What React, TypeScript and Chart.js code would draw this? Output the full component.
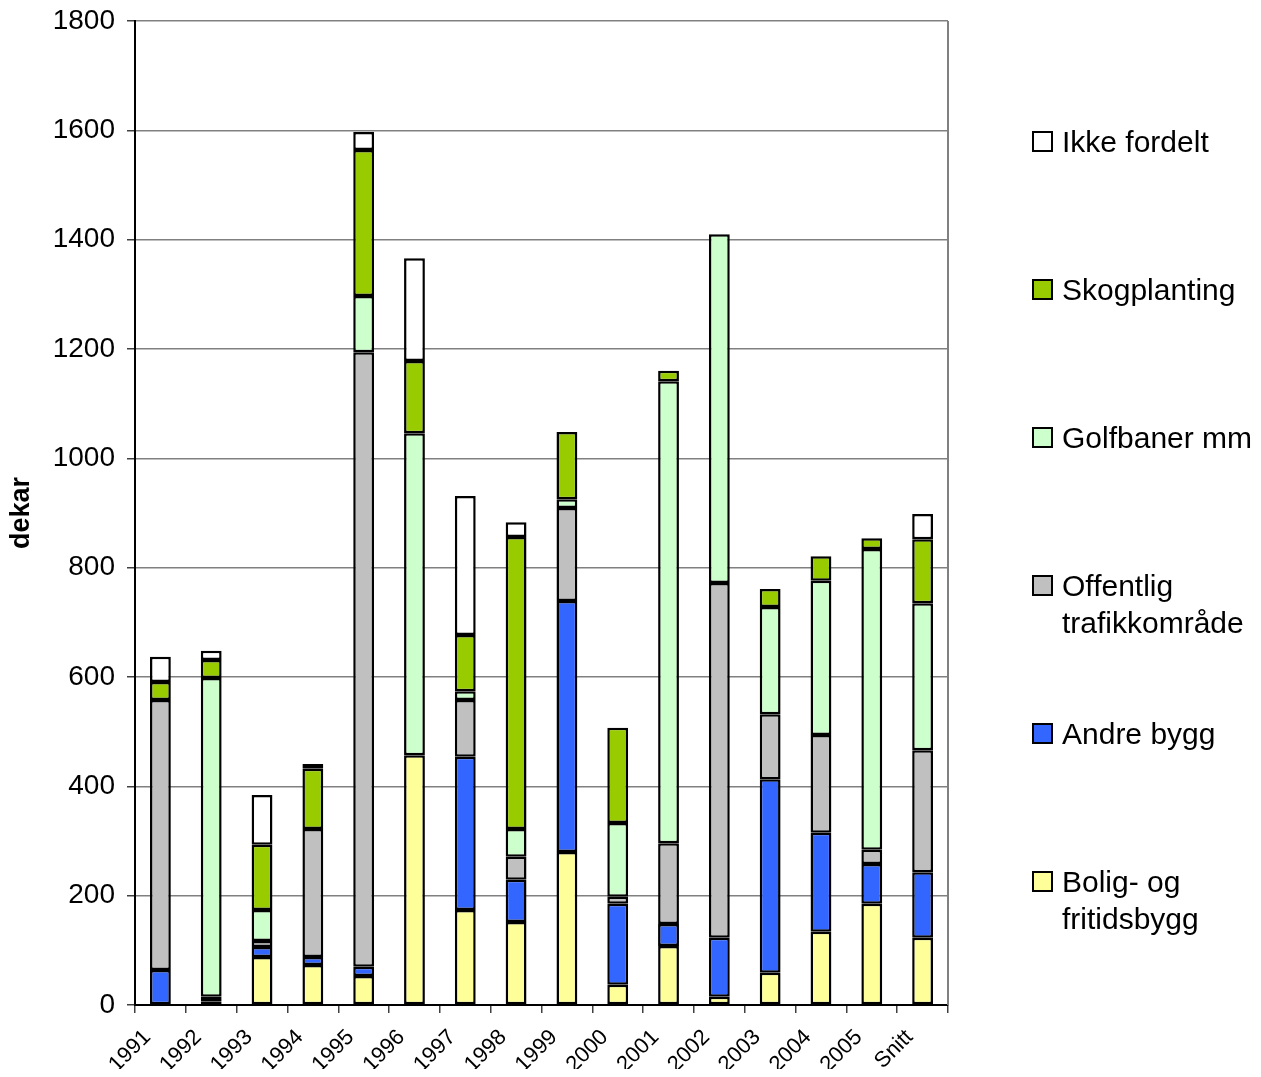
import React, { useEffect, useRef } from "react";
import { Chart, registerables } from "chart.js";

Chart.register(...registerables);

const categories = ["1991", "1992", "1993", "1994", "1995", "1996", "1997", "1998", "1999", "2000", "2001", "2002", "2003", "2004", "2005", "Snitt"];

const bolig = [0, 0, 88, 73, 53, 457, 174, 152, 280, 37, 108, 15, 59, 134, 185, 123];
const andre = [64, 6, 18, 15, 17, 0, 280, 77, 459, 148, 40, 108, 354, 181, 73, 120];
const offentlig = [494, 9, 11, 234, 1124, 0, 104, 42, 170, 13, 148, 649, 119, 179, 26, 223];
const golf = [0, 583, 57, 0, 103, 589, 16, 51, 16, 135, 845, 638, 196, 282, 550, 269];
const skog = [33, 33, 119, 110, 267, 132, 103, 534, 123, 174, 19, 0, 33, 45, 20, 117];
const ikke = [46, 17, 91, 9, 33, 188, 254, 27, 0, 0, 0, 0, 0, 0, 0, 46];

const yTicks = [0, 200, 400, 600, 800, 1000, 1200, 1400, 1600, 1800];

const seriesLabels = ["Bolig- og\nfritidsbygg", "Andre bygg", "Offentlig\ntrafikkområde", "Golfbaner mm", "Skogplanting", "Ikke fordelt"];
const seriesColors = ["#FFFF99", "#3366FF", "#C0C0C0", "#CCFFCC", "#99CC00", "#FFFFFF"];
const seriesData = [bolig, andre, offentlig, golf, skog, ikke];

const FONT = "'Liberation Sans', Arial, sans-serif";

const plotBorder = {
  id: "plotBorder",
  afterDatasetsDraw(chart: any) {
    const { ctx, chartArea } = chart;
    ctx.save();
    ctx.strokeStyle = "#808080";
    ctx.lineWidth = 2;
    ctx.beginPath();
    ctx.moveTo(chartArea.right, chartArea.top);
    ctx.lineTo(chartArea.right, chartArea.bottom);
    ctx.stroke();
    ctx.restore();
  },
};

export default function App() {
  const canvasRef = useRef<HTMLCanvasElement | null>(null);

  useEffect(() => {
    if (!canvasRef.current) return;
    const chart = new Chart(canvasRef.current, {
      type: "bar",
      data: {
        labels: categories,
        datasets: seriesData.map((d, i) => ({
          label: seriesLabels[i].replace("\n", " "),
          data: d.map((v) => (v === 0 ? null : v)),
          backgroundColor: seriesColors[i],
          borderColor: "#000000",
          borderWidth: 2.5,
          borderSkipped: false,
          barPercentage: 0.41,
          categoryPercentage: 1,
        })),
      },
      options: {
        animation: false,
        responsive: true,
        maintainAspectRatio: false,
        layout: { padding: { top: 13, right: 305, left: 0, bottom: 0 } },
        plugins: {
          legend: { display: false },
          tooltip: { enabled: false },
        },
        scales: {
          x: {
            stacked: true,
            grid: {
              display: true,
              drawOnChartArea: false,
              drawTicks: true,
              tickLength: 8,
              color: "#404040",
              lineWidth: 1.5,
              offset: true,
            },
            border: { display: true, color: "#000000", width: 2 },
            ticks: {
              color: "#000000",
              font: { family: FONT, size: 22, lineHeight: 1 },
              maxRotation: 45,
              minRotation: 45,
              padding: 13,
              labelOffset: -13,
              autoSkip: false,
            },
            afterFit: (scale: any) => {
              scale.height = 72;
            },
          },
          y: {
            stacked: true,
            min: 0,
            max: 1800,
            afterBuildTicks: (scale: any) => {
              scale.ticks = yTicks.map((v) => ({ value: v }));
            },
            grid: {
              color: "#808080",
              lineWidth: 1.5,
              tickLength: 8,
              tickColor: "#404040",
            },
            border: { display: true, color: "#000000", width: 2 },
            ticks: {
              color: "#000000",
              font: { family: FONT, size: 28, lineHeight: 1 },
              padding: 12,
              callback: (v: any) => String(v),
            },
            title: {
              display: true,
              text: "dekar",
              color: "#000000",
              font: { family: FONT, size: 27, weight: "bold", lineHeight: 1 },
              padding: 0,
            },
            afterFit: (scale: any) => {
              scale.width = 127;
              scale.paddingTop = 0;
              scale.paddingBottom = 0;
            },
          },
        },
      },
      plugins: [plotBorder],
    });
    return () => chart.destroy();
  }, []);

  const legendOrder = [5, 4, 3, 2, 1, 0];

  return (
    <div style={{ position: "relative", width: 1245, height: 1069, marginBottom: -8, fontFamily: FONT }}>
      <div style={{ position: "absolute", left: 0, top: 0, width: 1245, height: 1069 }}>
        <canvas ref={canvasRef} />
      </div>
      {legendOrder.map((si, idx) => (
        <div
          key={si}
          style={{
            position: "absolute",
            left: 1024,
            top: 133 + idx * 148 - 18.5,
            display: "flex",
            alignItems: "flex-start",
          }}
        >
          <div
            style={{
              width: 17,
              height: 17,
              border: "2px solid #000",
              background: seriesColors[si],
              marginTop: 8,
              marginRight: 9,
              flex: "none",
            }}
          />
          <div style={{ fontSize: 30, lineHeight: "37px", whiteSpace: "pre", color: "#000" }}>{seriesLabels[si]}</div>
        </div>
      ))}
    </div>
  );
}
